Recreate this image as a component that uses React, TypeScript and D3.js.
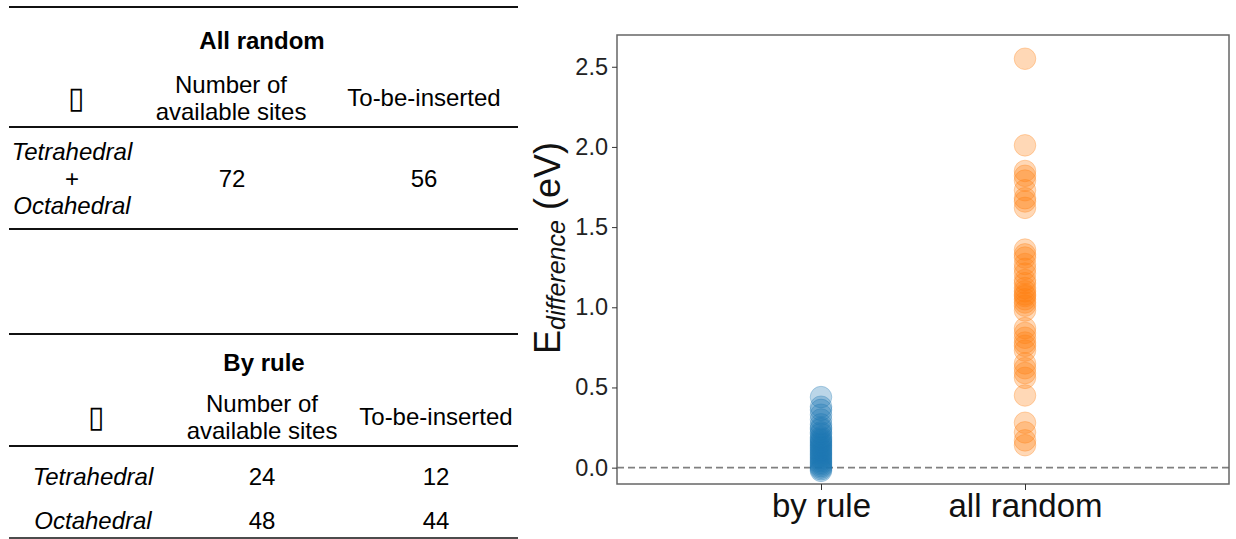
import React, { useEffect, useRef } from 'react';
import { select, scaleLinear, axisLeft, axisBottom } from 'd3';

// scatter data (eV)
const byRule = [0.44, 0.38, 0.36, 0.33, 0.3, 0.27, 0.25, 0.24, 0.22, 0.21, 0.19, 0.18, 0.17, 0.16,
  0.15, 0.14, 0.13, 0.12, 0.11, 0.1, 0.09, 0.08, 0.07, 0.06, 0.05, 0.04, 0.03, 0.02, 0.01, 0.0, -0.01, -0.02];
const allRandom = [2.55, 2.01, 1.85, 1.82, 1.79, 1.73, 1.68, 1.66, 1.62, 1.36, 1.33, 1.31, 1.27, 1.24,
  1.21, 1.17, 1.15, 1.12, 1.1, 1.08, 1.07, 1.05, 1.03, 1.01, 0.98, 0.87, 0.84, 0.81, 0.78, 0.76, 0.73,
  0.65, 0.62, 0.59, 0.56, 0.45, 0.28, 0.22, 0.17, 0.14];
const categories = ['by rule', 'all random'];
const seriesColors = ['#1f77b4', '#ff7f0e'];
const yTicks = [0, 0.5, 1.0, 1.5, 2.0, 2.5];

// tables
const headerCols = ['\u25AF', 'Number of\navailable sites', 'To-be-inserted'];
const randomRows = [['Tetrahedral\n+\nOctahedral', '72', '56']];
const ruleRows = [['Tetrahedral', '24', '12'], ['Octahedral', '48', '44']];

const FONT = '"Liberation Sans", Arial, sans-serif';

const Lines = ({ x, y, text, size, italicFirst, bold, lh }: any) => {
  const parts = text.split('\n');
  const y0 = y - ((parts.length - 1) * lh) / 2;
  return (
    <text x={x} textAnchor="middle" dominantBaseline="central" fontSize={size} fontFamily={FONT}
      fontWeight={bold ? 'bold' : 'normal'}>
      {parts.map((p: string, i: number) => (
        <tspan key={i} x={x} y={y0 + i * lh} fontStyle={italicFirst && p !== '+' ? 'italic' : 'normal'}>{p}</tspan>
      ))}
    </text>
  );
};

const Rule = ({ y, w = 2 }: any) => <line x1={9} x2={518} y1={y} y2={y} stroke="#111" strokeWidth={w} />;

const App = () => {
  const xRef = useRef<SVGGElement>(null);
  const yRef = useRef<SVGGElement>(null);

  const left = 617, right = 1229, top = 35, bottom = 484;
  const xScale = scaleLinear().domain([-1, 2]).range([left, right]);
  const yScale = scaleLinear().domain([-0.102, 2.698]).range([bottom, top]);

  useEffect(() => {
    const yAxis = axisLeft(yScale).tickValues(yTicks).tickFormat((d: any) => d.toFixed(1)).tickSize(5).tickPadding(4);
    const gy = select(yRef.current).call(yAxis as any);
    gy.select('.domain').remove();
    gy.selectAll('text').attr('font-size', 23.5).attr('font-family', FONT).attr('fill', '#222');
    gy.selectAll('line').attr('stroke', '#333');

    const xAxis = axisBottom(xScale).tickValues([0, 1]).tickFormat((d: any) => categories[d]).tickSize(6).tickPadding(4);
    const gx = select(xRef.current).call(xAxis as any);
    gx.select('.domain').remove();
    gx.selectAll('text').attr('font-size', 33).attr('font-family', FONT).attr('fill', '#111');
    gx.selectAll('line').attr('stroke', '#333');
  }, []);

  const series = [byRule, allRandom];

  return (
    <svg width={1236} height={539} style={{ position: 'absolute', left: 0, top: 0, background: '#fff' }}>
      {/* All random table */}
      <Rule y={7} />
      <Lines x={262} y={40} text="All random" size={24} bold lh={26} />
      <Lines x={76} y={97} text={headerCols[0]} size={30} lh={27} />
      <Lines x={231} y={97} text={headerCols[1]} size={24} lh={27} />
      <Lines x={424} y={97} text={headerCols[2]} size={24} lh={27} />
      <Rule y={127} />
      {randomRows.map((r, i) => (
        <g key={i}>
          <Lines x={72} y={178} text={r[0]} size={24} italicFirst lh={27} />
          <Lines x={232} y={178} text={r[1]} size={24} lh={27} />
          <Lines x={424} y={178} text={r[2]} size={24} lh={27} />
        </g>
      ))}
      <Rule y={229} />

      {/* By rule table */}
      <Rule y={334} />
      <Lines x={264} y={362} text="By rule" size={24} bold lh={26} />
      <Lines x={96} y={416} text={headerCols[0]} size={30} lh={27} />
      <Lines x={262} y={416} text={headerCols[1]} size={24} lh={27} />
      <Lines x={436} y={416} text={headerCols[2]} size={24} lh={27} />
      <Rule y={446} />
      {ruleRows.map((r, i) => (
        <g key={i}>
          <Lines x={93} y={476 + i * 44} text={r[0]} size={24} italicFirst lh={27} />
          <Lines x={262} y={476 + i * 44} text={r[1]} size={24} lh={27} />
          <Lines x={436} y={476 + i * 44} text={r[2]} size={24} lh={27} />
        </g>
      ))}
      <Rule y={538} w={1.5} />

      {/* scatter plot */}
      <line x1={left} x2={right} y1={yScale(0)} y2={yScale(0)} stroke="#808080" strokeWidth={1.6} strokeDasharray="7,4" />
      {series.map((vals, si) =>
        vals.map((v, i) => (
          <circle key={si + '-' + i} cx={xScale(si)} cy={yScale(v)} r={10.8}
            fill={seriesColors[si]} fillOpacity={0.3}
            stroke={seriesColors[si]} strokeOpacity={0.3} strokeWidth={1} />
        ))
      )}
      <rect x={left} y={top} width={right - left} height={bottom - top} fill="none" stroke="#666" strokeWidth={1.5} />
      <g ref={yRef} transform={`translate(${left},0)`} />
      <g ref={xRef} transform={`translate(0,${bottom})`} />
      <text transform="translate(560,248) rotate(-90)" textAnchor="middle" fontFamily={FONT} fill="#111">
        <tspan fontSize={36}>E</tspan>
        <tspan fontSize={25} fontStyle="italic" dy={5}>difference</tspan>
        <tspan fontSize={36} dy={-5}> (eV)</tspan>
      </text>
    </svg>
  );
};

export default App;
